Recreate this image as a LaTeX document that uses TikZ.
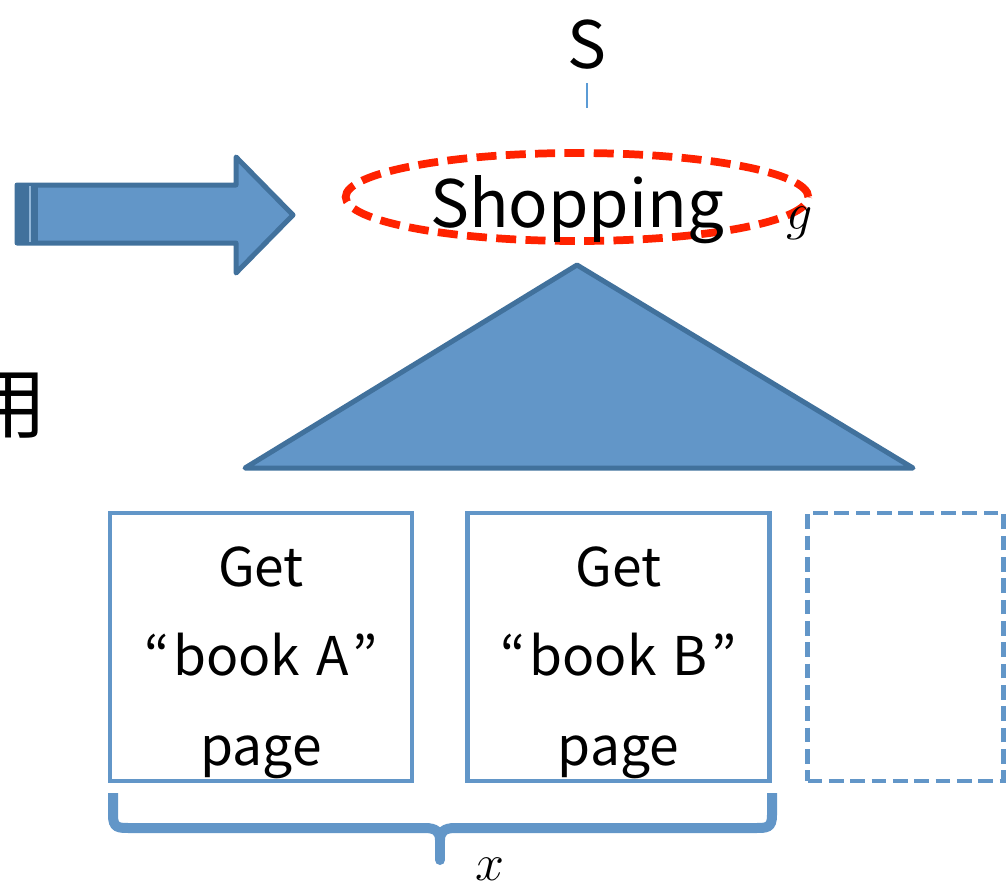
\documentclass[tikz,border=0pt]{standalone}
\usepackage{fix-cm}
\usepackage{fontspec}
\setmainfont{Noto Sans CJK JP}
\usetikzlibrary{shapes.geometric}
\definecolor{fillblue}{RGB}{98,150,200}
\definecolor{darkblue}{RGB}{65,113,156}
\definecolor{dashred}{RGB}{255,34,0}
\definecolor{lineblue}{RGB}{91,155,213}
\tikzset{
  bigtext/.style={font=\fontsize{49}{49}\selectfont, inner sep=0pt, anchor=base},
  boxtext/.style={font=\fontsize{40}{40}\selectfont, inner sep=0pt, anchor=base},
  mathtext/.style={font=\fontsize{39}{39}\selectfont, inner sep=0pt, anchor=base},
  shapefill/.style={fill=fillblue, draw=darkblue, line width=3.75pt, line join=round},
  pagebox/.style={draw=fillblue, line width=3.2pt, minimum width=226.5pt, minimum height=201pt, inner sep=0pt},
  dashbox/.style={pagebox, minimum width=147pt, dash pattern=on 11pt off 5pt},
  goalell/.style={ellipse, draw=dashred, line width=5.8pt, dash pattern=on 15pt off 7pt, minimum width=347pt, minimum height=66pt, inner sep=0pt},
  brace/.style={draw=fillblue, line width=7.5pt}
}
\begin{document}
\begin{tikzpicture}[x=0.75pt,y=-0.75pt]
\useasboundingbox (0,0) rectangle (1006,889);

% S and its stem
\node[bigtext] (S) at (587,68) {S};
\coordinate (stemtop) at (587,83);
\coordinate (stembot) at (587,108);
\draw[lineblue, line width=1.1pt] (stemtop) -- (stembot);

% goal ellipse
\node[goalell] (ell) at (577,197) {};
\node[bigtext] (shop) at (577,227) {Shopping};
\node[mathtext] (g) at (800,229) {$g$};

% block arrow
\path[shapefill] (17,185) -- (236,185) -- (236,157) -- (293,215) -- (236,273) -- (236,243) -- (17,243) -- cycle;
\fill[darkblue] (15,183) rectangle (38,245);
\draw[fillblue!70!white, line width=0.8pt] (30,186) -- (30,242);

% partial character
\node[font=\fontsize{58}{58}\selectfont, inner sep=0pt] (yo) at (8,406) {用};

% triangle
\path[shapefill] (577,265) -- (913,468) -- (245,468) -- cycle;

% page boxes
\node[pagebox] (b1) at (261,647) {};
\node[pagebox] (b2) at (618.5,647) {};
\node[dashbox] (b3) at (905.5,647) {};

\node[boxtext] (a1) at (261,586) {Get};
\node[boxtext] (a2) at (261,675) {“\hspace{3pt}book\hspace{3pt} A\hspace{3pt}”};
\node[boxtext] (a3) at (261,765) {page};
\node[boxtext] (c1) at (618.5,586) {Get};
\node[boxtext] (c2) at (618.5,675) {“\hspace{3pt}book\hspace{3pt} B\hspace{3pt}”};
\node[boxtext] (c3) at (618.5,765) {page};

% brace
\coordinate (bl) at (113,793);
\coordinate (br) at (772,793);
\coordinate (bmid) at (440,840);
\coordinate (btip) at (440,860);
\draw[brace] (bl) -- (113,815) .. controls (113,828) and (118,828) .. (130,828) -- (425,828) .. controls (436,828) and (440,832) .. (bmid);
\draw[brace] (br) -- (772,815) .. controls (772,828) and (767,828) .. (755,828) -- (455,828) .. controls (444,828) and (440,832) .. (bmid);
\draw[brace, line cap=round] (bmid) -- (btip);
\node[mathtext] (xl) at (490,880) {$x$};
\end{tikzpicture}
\end{document}
